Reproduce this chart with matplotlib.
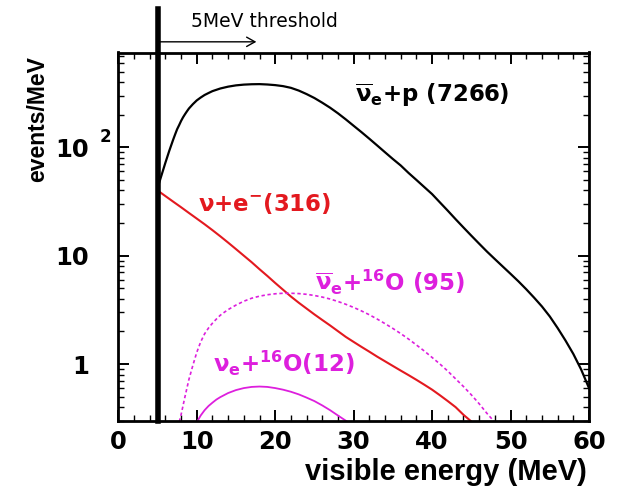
import numpy as np
import matplotlib
matplotlib.use('Agg')
import matplotlib.pyplot as plt
from matplotlib.ticker import MultipleLocator, LogLocator, FixedLocator, FixedFormatter, NullFormatter

plt.rcParams['mathtext.fontset'] = 'custom'
plt.rcParams['mathtext.rm'] = 'DejaVu Sans:bold'
plt.rcParams['mathtext.it'] = 'DejaVu Sans:bold'
plt.rcParams['mathtext.bf'] = 'DejaVu Sans:bold'

# valores (energia visivel em MeV, eventos/MeV)
e_ibd = [5, 5.5, 6, 6.5, 7, 7.25, 7.5, 7.75, 8, 8.25, 8.5, 8.75, 9, 9.5, 10, 10.5, 11, 11.5, 12,
         13, 14, 15, 16, 17, 18, 19, 20, 21, 22, 23, 24, 25, 26, 27, 28, 29, 30, 31, 32, 33, 34, 35,
         36, 37, 38, 39, 40, 41, 42, 43, 44, 45, 46, 47, 48, 49, 50, 51, 52, 53, 54, 55, 56,
         57, 58, 59, 60]
n_ibd = [42, 55, 72, 93, 118, 132, 147, 160, 175, 189, 202, 215, 228, 250, 271, 288, 304, 317, 330,
         349, 363, 373, 379, 382, 383, 380, 375, 367, 354, 334, 310, 285, 258, 232, 206, 181, 158, 138,
         120, 104, 90, 78, 68, 58, 50, 43, 37, 31, 26, 21.7, 18.2, 15.3, 12.9, 10.9, 9.3, 7.95, 6.8,
         5.8, 4.9, 4.1, 3.4, 2.75, 2.15, 1.65, 1.24, 0.89, 0.6]

e_es = [5, 6, 7, 8, 9, 10, 11, 12, 13, 14, 15, 16, 17, 18, 19, 20, 21, 22, 23, 24, 25, 26,
        27, 28, 29, 30, 31, 32, 33, 34, 35, 36, 37, 38, 39, 40, 41, 42, 43, 44, 45, 46]
n_es = [40, 35.5, 31.5, 28, 24.8, 22, 19.5, 17.2, 15.1, 13.2, 11.5, 10.0, 8.7, 7.5, 6.5, 5.6, 4.85,
        4.2, 3.68, 3.25, 2.87, 2.55, 2.27, 2.01, 1.78, 1.6, 1.44, 1.3, 1.17, 1.06, 0.96, 0.87, 0.79,
        0.715, 0.645, 0.58, 0.515, 0.455, 0.4, 0.34, 0.295, 0.26]

e_o16_bar = [7.6, 8, 8.5, 9, 9.5, 10, 10.5, 11, 11.5, 12, 12.5, 13, 13.5, 14, 15, 16, 17, 18, 19,
             20, 21, 22, 23, 24, 25, 26, 27, 28, 29, 30, 31, 32, 33, 34, 35, 36, 37, 38, 39, 40,
             41, 42, 43, 44, 45, 46, 47, 48, 49]
n_o16_bar = [0.26, 0.34, 0.5, 0.72, 0.97, 1.28, 1.6, 1.9, 2.15, 2.38, 2.6, 2.82, 3.0, 3.18, 3.5, 3.8,
             4.05, 4.23, 4.36, 4.45, 4.5, 4.5, 4.47, 4.4, 4.29, 4.15, 3.98, 3.78, 3.56, 3.33, 3.09, 2.85,
             2.6, 2.36, 2.13, 1.91, 1.7, 1.5, 1.32, 1.15, 1.0, 0.86, 0.73, 0.62, 0.52, 0.43, 0.35, 0.29, 0.23]

e_o16 = [9.8, 10, 10.5, 11, 11.5, 12, 12.5, 13, 14, 15, 16, 17, 18, 19, 20, 21, 22, 23, 24, 25,
         26, 27, 28, 29, 30]
n_o16 = [0.27, 0.29, 0.335, 0.375, 0.41, 0.44, 0.47, 0.495, 0.54, 0.575, 0.6, 0.615, 0.62, 0.615, 0.6,
         0.58, 0.555, 0.525, 0.49, 0.455, 0.415, 0.375, 0.335, 0.3, 0.265]

threshold = 5
x_ticks = [0, 10, 20, 30, 40, 50, 60]
y_ticks = [1, 10, 100]
y_ticklabels = ['1', '10', '10']

red = '#e3191f'
magenta = '#dd1fdd'

fig = plt.figure(figsize=(6.21, 4.87), dpi=100)
ax = fig.add_axes([118.3 / 621, 1 - 420.7 / 487, (589 - 118.3) / 621, (420.7 - 52.5) / 487])

ax.plot(e_ibd, n_ibd, color='black', lw=1.6)
ax.plot(e_es, n_es, color=red, lw=1.5)
ax.plot(e_o16_bar, n_o16_bar, color=magenta, lw=1.2, ls=(0, (2, 1.6)))
ax.plot(e_o16, n_o16, color=magenta, lw=1.3)

ax.set_yscale('log')
ax.set_xlim(0, 60)
ax.set_ylim(0.3, 750)

ax.xaxis.set_major_locator(FixedLocator(x_ticks))
ax.xaxis.set_minor_locator(MultipleLocator(2))
ax.yaxis.set_major_locator(FixedLocator(y_ticks))
ax.yaxis.set_major_formatter(FixedFormatter(y_ticklabels))
ax.yaxis.set_minor_locator(LogLocator(base=10, subs=np.arange(2, 10)))
ax.yaxis.set_minor_formatter(NullFormatter())

ax.tick_params(which='both', direction='in', top=True, right=True)
ax.tick_params(which='major', length=8, width=1.4)
ax.tick_params(which='minor', length=4.5, width=1)
ax.tick_params(axis='y', which='major', pad=21)
ax.tick_params(axis='x', which='major', pad=6.5)
for lab in ax.get_xticklabels() + ax.get_yticklabels():
    lab.set_fontsize(17.5)
    lab.set_fontweight('bold')
for sp in ax.spines.values():
    sp.set_linewidth(2)

# linha do limiar de 5 MeV
ax.axvline(threshold, 0, 1.118, color='black', lw=4, clip_on=False)
ax.annotate('', xy=(17.6, 1.029), xytext=(threshold + 0.2, 1.029),
            xycoords=('data', 'axes fraction'), textcoords=('data', 'axes fraction'),
            arrowprops=dict(arrowstyle='->, head_length=0.5, head_width=0.28', lw=1,
                            color='black', shrinkA=0, shrinkB=0, mutation_scale=12),
            annotation_clip=False)
ax.text(9.27, 1.070, '5MeV threshold', transform=ax.get_xaxis_transform(),
        fontsize=13.5, family='DejaVu Sans', ha='left', va='baseline')

kw = dict(fontsize=16.5, fontweight='bold', family='DejaVu Sans', ha='left', va='baseline')
ax.text(30.2, 260, r'$\overline{\nu}_{e}$+p (7266)', color='black', **kw)
ax.text(10.2, 26, r'$\nu$+e$^{-}$(316)', color=red, **kw)
ax.text(25.1, 4.75, r'$\overline{\nu}_{e}$+$^{16}$O (95)', color=magenta, **kw)
ax.text(12.1, 0.84, r'$\nu_{e}$+$^{16}$O(12)', color=magenta, **kw)

fig.text(100 / 621, 1 - 142 / 487, '2', fontsize=12, fontweight='bold', ha='left', va='baseline')
fig.text(37.5 / 621, 1 - 119.5 / 487, 'events/MeV', rotation=90, ha='center', va='center',
         fontsize=16.5, fontweight='bold', family='Liberation Sans')
fig.text(587 / 621, 1 - 480 / 487, 'visible energy (MeV)', ha='right', va='baseline',
         fontsize=21, fontweight='bold', family='Liberation Sans')

plt.savefig('out.png', dpi=100)
